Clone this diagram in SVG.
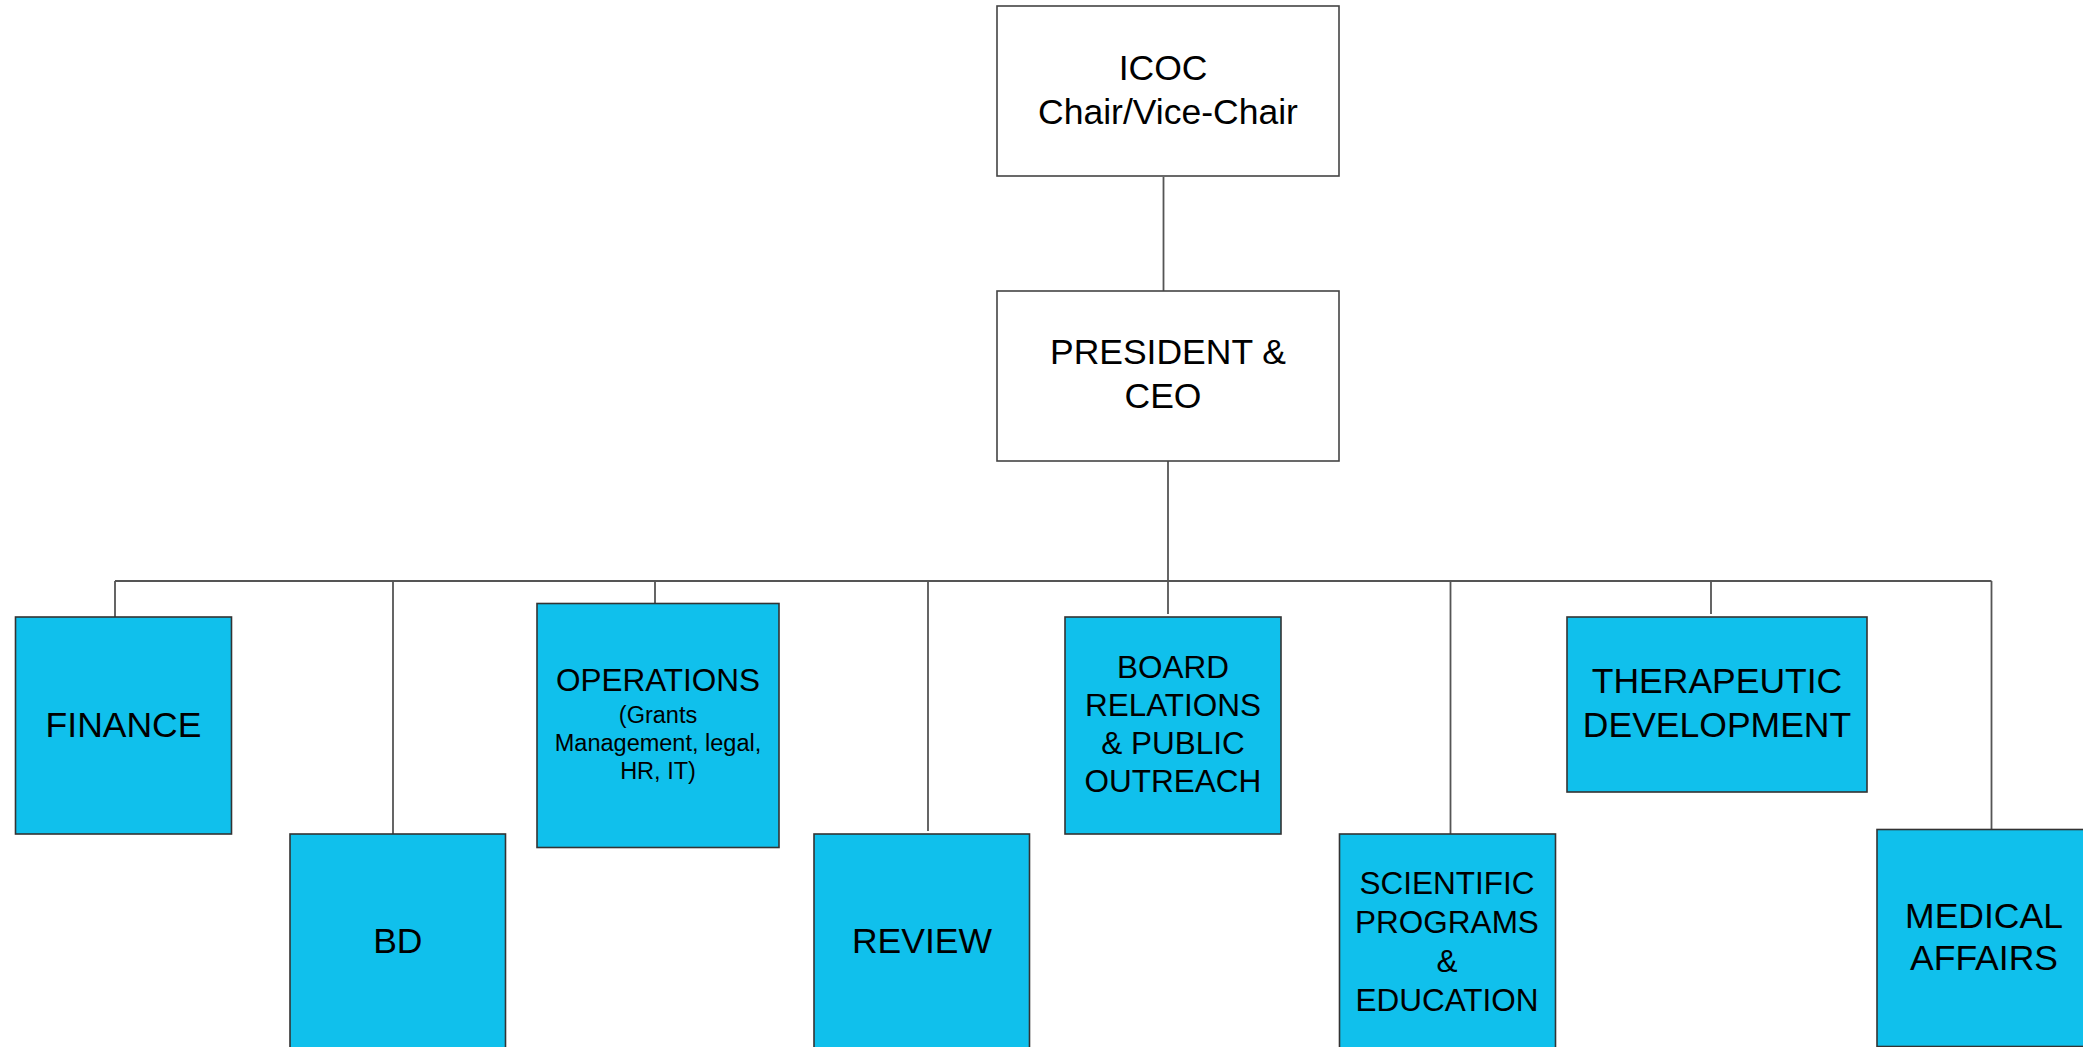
<svg xmlns="http://www.w3.org/2000/svg" width="2083" height="1047" viewBox="0 0 2083 1047">
<style>
.top{fill:#ffffff;stroke:#444444;stroke-width:1.6}
.dept{fill:#10c0ec;stroke:#333333;stroke-width:1.6}
.t{font-family:"Liberation Sans",Arial,sans-serif;fill:#000000;text-anchor:middle}
.l{font-size:35.5px}
.m{font-size:31.5px}
.s{font-size:23.5px}
.c{stroke:#555555;stroke-width:1.8;fill:none}
</style>
<rect width="2083" height="1047" fill="#ffffff"/>
<g id="connectors">
<line class="c" x1="1163.5" y1="177" x2="1163.5" y2="291"/>
<line class="c" x1="1168" y1="461" x2="1168" y2="581"/>
<line class="c" x1="115" y1="581" x2="1991.5" y2="581"/>
<line class="c" x1="115" y1="581" x2="115" y2="617"/>
<line class="c" x1="393" y1="581" x2="393" y2="836"/>
<line class="c" x1="655" y1="581" x2="655" y2="612"/>
<line class="c" x1="928" y1="581" x2="928" y2="831"/>
<line class="c" x1="1168" y1="581" x2="1168" y2="614"/>
<line class="c" x1="1450.5" y1="581" x2="1450.5" y2="834"/>
<line class="c" x1="1711" y1="581" x2="1711" y2="614"/>
<line class="c" x1="1991.5" y1="581" x2="1991.5" y2="829.5"/>
</g>
<g id="icoc">
<rect class="top" x="997" y="6" width="342" height="170"/>
<text class="t l" x="1163" y="80">ICOC</text>
<text class="t l" x="1168" y="124">Chair/Vice-Chair</text>
</g>
<g id="president">
<rect class="top" x="997" y="291" width="342" height="170"/>
<text class="t l" x="1168" y="364">PRESIDENT &amp;</text>
<text class="t l" x="1163" y="408">CEO</text>
</g>
<g id="finance">
<rect class="dept" x="15.5" y="617" width="216" height="217"/>
<text class="t l" x="123.5" y="737">FINANCE</text>
</g>
<g id="bd">
<rect class="dept" x="290" y="834" width="215.5" height="217"/>
<text class="t l" x="397.8" y="953">BD</text>
</g>
<g id="operations">
<rect class="dept" x="537" y="603.5" width="242" height="244"/>
<text class="t m" x="658" y="691">OPERATIONS</text>
<text class="t s" x="658" y="723">(Grants</text>
<text class="t s" x="658" y="751">Management, legal,</text>
<text class="t s" x="658" y="779">HR, IT)</text>
</g>
<g id="review">
<rect class="dept" x="814" y="834" width="215.5" height="217"/>
<text class="t l" x="922" y="953">REVIEW</text>
</g>
<g id="board">
<rect class="dept" x="1065" y="617" width="216" height="217"/>
<text class="t m" x="1173" y="678">BOARD</text>
<text class="t m" x="1173" y="716">RELATIONS</text>
<text class="t m" x="1173" y="754">&amp; PUBLIC</text>
<text class="t m" x="1173" y="792">OUTREACH</text>
</g>
<g id="scientific">
<rect class="dept" x="1339.5" y="834" width="216" height="217"/>
<text class="t m" x="1447" y="894">SCIENTIFIC</text>
<text class="t m" x="1447" y="933">PROGRAMS</text>
<text class="t m" x="1447" y="972">&amp;</text>
<text class="t m" x="1447" y="1011">EDUCATION</text>
</g>
<g id="therapeutic">
<rect class="dept" x="1567" y="617" width="300" height="175"/>
<text class="t l" x="1717" y="693">THERAPEUTIC</text>
<text class="t l" x="1717" y="737">DEVELOPMENT</text>
</g>
<g id="medical">
<rect class="dept" x="1877" y="829.5" width="216" height="217"/>
<text class="t l" x="1984" y="928">MEDICAL</text>
<text class="t l" x="1984" y="970">AFFAIRS</text>
</g>
</svg>
